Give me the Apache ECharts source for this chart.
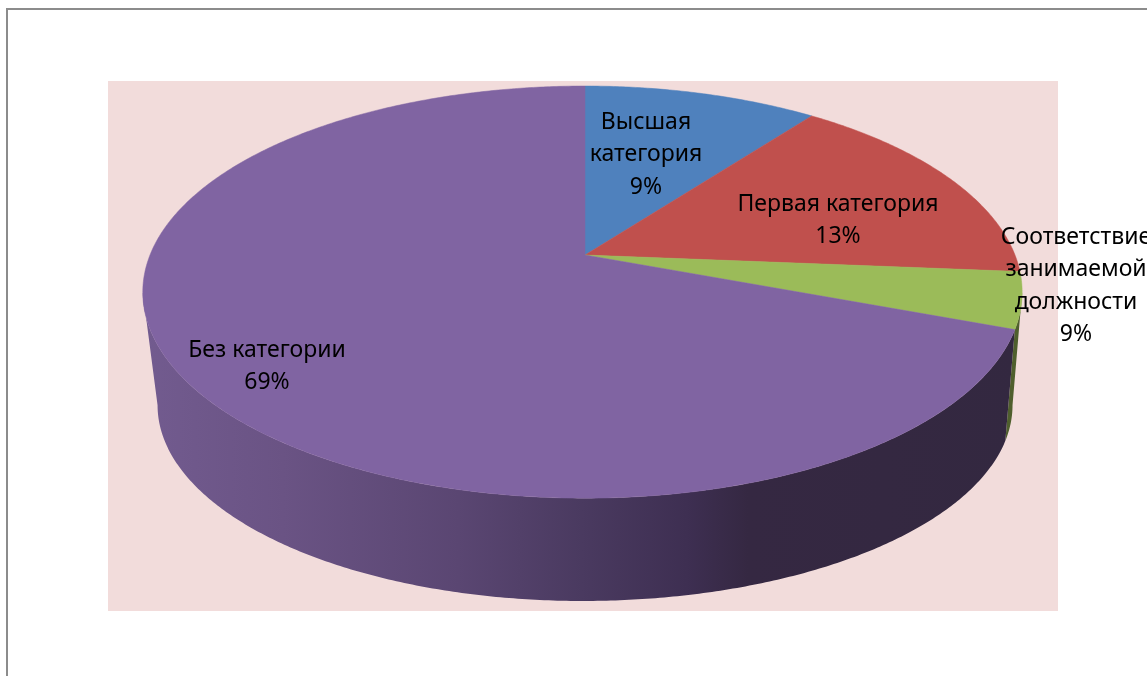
<!DOCTYPE html>
<html><head><meta charset="utf-8">
<style>html,body{margin:0;padding:0;background:#fff;overflow:hidden}#c{width:1147px;height:676px}</style>
<script src="https://cdn.jsdelivr.net/npm/echarts@6/dist/echarts.min.js"></script>
</head><body><div id="c"></div>
<script>
// Data
const categories = ['Высшая\nкатегория', 'Первая категория', 'Соответствие\nзанимаемой\nдолжности', 'Без категории'];
const printedPercent = [9, 13, 9, 69];          // numbers printed in the labels
const drawnShare = [10.3, 16.0, 4.4, 69.3];     // share of the circle each slice actually covers in the picture
const topColors = ['#4f81bd', '#c0504d', '#9bbb59', '#8064a2'];
const wallColors = ['#35537a', '#7c3331', '#4f5f2d', null];

// Layout
const labelAnchors = [[646, 106], [838, 188], [1076, 221], [267, 334]];
const TOP = {x: 585, y: 255, aL: 435, aR: 430, b: 199.4, k: 0.18};
const BOTTOM = {x: 582.5, y: 370, aL: 418, aR: 423, b: 189.4, k: 0.18};
const VIS_FROM = 100.4, VIS_TO = 259.6;

function rim(d, deg) {
  const t = deg * Math.PI / 180, u = Math.sin(t), v = -Math.cos(t), w = 1 - d.k * v;
  return [d.x + (u < 0 ? d.aL : d.aR) * u / w, d.y + d.b * v / w];
}
function arc(d, from, to) {
  const pts = [], n = Math.max(2, Math.ceil(Math.abs(to - from) * 2));
  for (let i = 0; i <= n; i++) pts.push(rim(d, from + (to - from) * i / n));
  return pts;
}
const wallGradient = {
  type: 'linear', global: true, x: 143, y: 0, x2: 1020, y2: 0,
  colorStops: [
    {offset: 0, color: '#725b8f'}, {offset: 0.16, color: '#6a5384'},
    {offset: 0.36, color: '#5a4672'}, {offset: 0.5, color: '#4a3a60'},
    {offset: 0.62, color: '#3e2f52'}, {offset: 0.69, color: '#352842'},
    {offset: 1, color: '#332840'}
  ]
};

const total = drawnShare.reduce((s, v) => s + v, 0);
const seriesData = drawnShare.map((v, i) => ({name: categories[i], value: [v, printedPercent[i]]}));

function renderSlice(params, api) {
  const i = params.dataIndex;
  let start = 0;
  for (let j = 0; j < i; j++) start += drawnShare[j];
  const from = start / total * 360, to = from + api.value(0) / total * 360;
  const children = [];
  const a = Math.max(from, VIS_FROM), b = Math.min(to, VIS_TO);
  if (b > a) {
    children.push({
      type: 'polygon', z2: 1,
      shape: {points: arc(TOP, a, b).concat(arc(BOTTOM, b, a))},
      style: {fill: wallColors[i] || wallGradient}
    });
  }
  const c = topColors[i];
  children.push({
    type: 'polygon', z2: 2,
    shape: {points: [[TOP.x, TOP.y]].concat(arc(TOP, from, to))},
    style: {fill: c, stroke: c, lineWidth: 0.5}
  });
  children.push({
    type: 'text', z2: 3, x: labelAnchors[i][0], y: labelAnchors[i][1],
    style: {
      text: categories[i] + '\n' + api.value(1) + '%',
      fill: '#000', align: 'center', verticalAlign: 'top',
      font: '23px "Noto Sans"', lineHeight: 32.5
    }
  });
  return {type: 'group', children};
}

const chart = echarts.init(document.getElementById('c'), null, {renderer: 'canvas'});
chart.setOption({
  animation: false,
  backgroundColor: '#fff',
  graphic: [
    {type: 'rect', z: 0, shape: {x: 6, y: 8, width: 1141, height: 2}, style: {fill: '#8c8c8c'}},
    {type: 'rect', z: 0, shape: {x: 6, y: 8, width: 2, height: 668}, style: {fill: '#8c8c8c'}},
    {type: 'rect', z: 0, shape: {x: 108, y: 81, width: 950, height: 530}, style: {fill: '#f2dcdb'}}
  ],
  series: [{type: 'custom', coordinateSystem: 'none', renderItem: renderSlice, data: seriesData, silent: true}]
});
</script></body></html>
